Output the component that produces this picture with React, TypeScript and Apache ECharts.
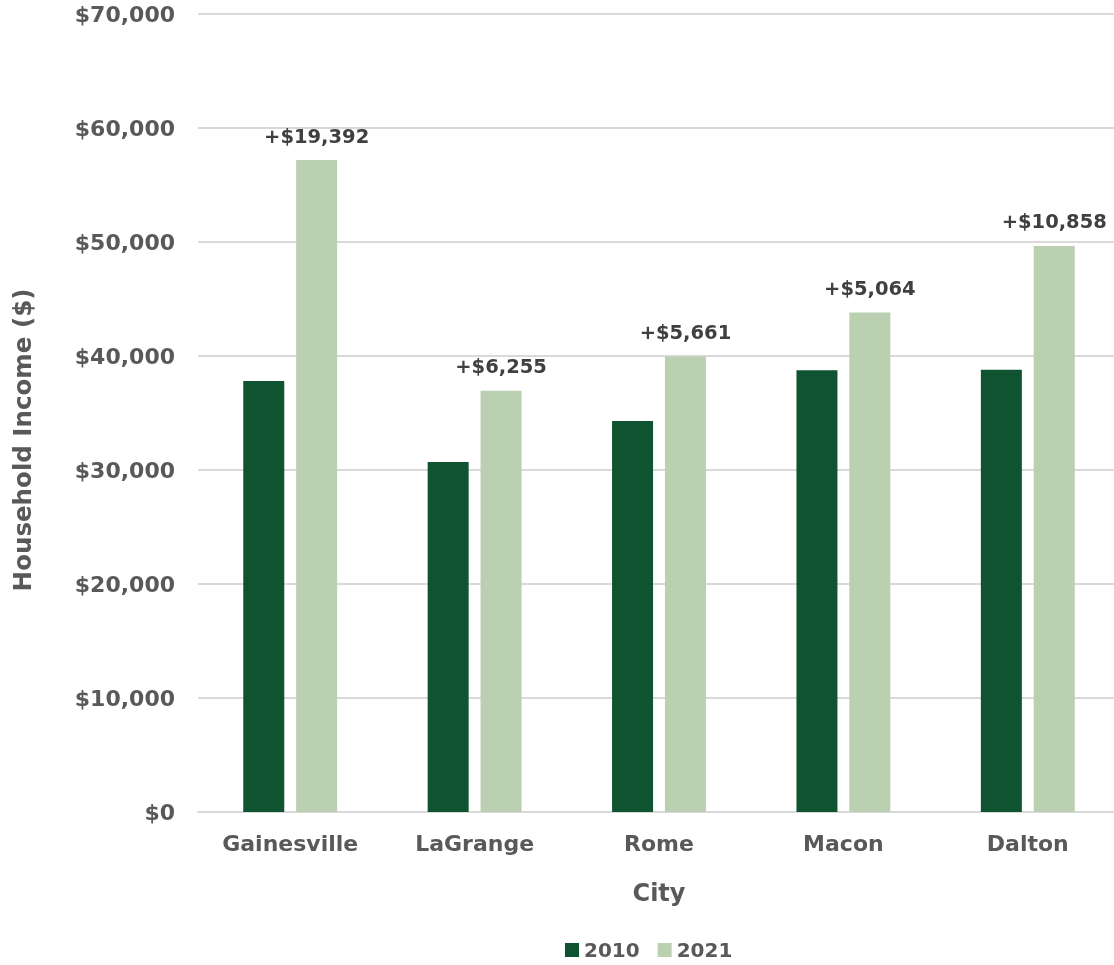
import React, { useEffect, useRef } from "react";
import * as echarts from "echarts";

const cities = ["Gainesville", "LaGrange", "Rome", "Macon", "Dalton"];
const income2010 = [37800, 30700, 34300, 38750, 38800];
const income2021 = [57192, 36955, 39961, 43814, 49658];
const changeLabels = ["+$19,392", "+$6,255", "+$5,661", "+$5,064", "+$10,858"];
const yTicks = [0, 10000, 20000, 30000, 40000, 50000, 60000, 70000];

const FONT = "'DejaVu Sans', 'Open Sans', sans-serif";
const GRAY = "#595959";

export default function App() {
  const ref = useRef<HTMLDivElement>(null);
  useEffect(() => {
    if (!ref.current) return;
    const chart = echarts.init(ref.current, undefined, { renderer: "svg" });
    chart.setOption({
      animation: false,
      grid: { left: 198, right: 0, top: 14, bottom: 153, containLabel: false },
      legend: {
        top: 934,
        left: 560,
        itemWidth: 14,
        itemHeight: 14,
        itemGap: 18,
        icon: "rect",
        textStyle: { fontFamily: FONT, fontWeight: "bold", fontSize: 20, color: GRAY, lineHeight: 22 },
        data: ["2010", "2021"],
      },
      graphic: [
        {
          type: "text",
          x: 22,
          y: 440,
          rotation: Math.PI / 2,
          style: {
            text: "Household Income ($)",
            fontFamily: FONT,
            fontWeight: "bold",
            fontSize: 24.5,
            fill: GRAY,
            align: "center",
            verticalAlign: "middle",
          },
        },
      ],
      xAxis: {
        type: "category",
        data: cities,
        name: "City",
        nameLocation: "middle",
        nameGap: 69,
        nameTextStyle: { fontFamily: FONT, fontWeight: "bold", fontSize: 24, color: GRAY },
        axisLine: { lineStyle: { color: "#d9d9d9", width: 2 } },
        axisTick: { show: false },
        axisLabel: { margin: 20, fontFamily: FONT, fontWeight: "bold", fontSize: 22, color: GRAY },
      },
      yAxis: {
        type: "value",
        min: yTicks[0],
        max: yTicks[yTicks.length - 1],
        interval: 10000,
        axisLine: { show: false },
        axisTick: { show: false },
        splitLine: { lineStyle: { color: "#d9d9d9", width: 2 } },
        axisLabel: {
          margin: 23,
          fontFamily: FONT,
          fontWeight: "bold",
          fontSize: 22,
          color: GRAY,
          formatter: (v: number) => "$" + v.toLocaleString("en-US"),
        },
      },
      series: [
        {
          name: "2010",
          type: "bar",
          data: income2010,
          barWidth: 41,
          barGap: "29%",
          itemStyle: { color: "#0F5330" },
        },
        {
          name: "2021",
          type: "bar",
          data: income2021,
          barWidth: 41,
          itemStyle: { color: "#BBCFB1" },
          label: {
            show: true,
            position: "top",
            distance: 14,
            fontFamily: FONT,
            fontWeight: "bold",
            fontSize: 19.5,
            color: "#404040",
            formatter: (p: any) => changeLabels[p.dataIndex],
          },
        },
      ],
    });
    return () => chart.dispose();
  }, []);
  return <div ref={ref} style={{ position: "fixed", left: 0, top: 0, width: 1120, height: 965 }} />;
}
